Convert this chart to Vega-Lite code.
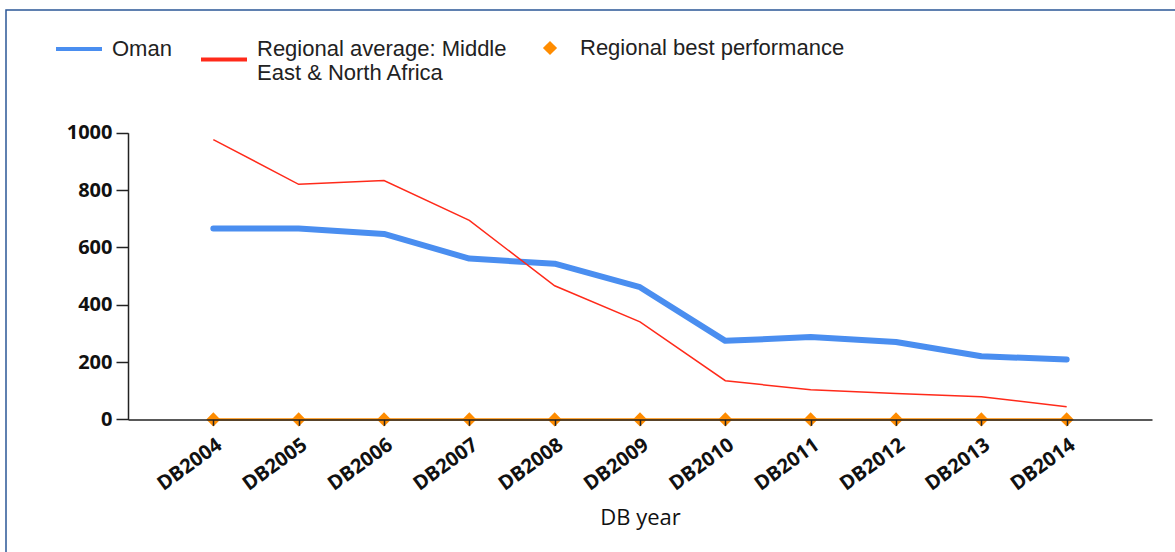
{
  "$schema": "https://vega.github.io/schema/vega-lite/v6.json",
  "width": 1169,
  "height": 542,
  "autosize": {"type": "none"},
  "padding": {"left": 6, "top": 10, "right": 0, "bottom": 0},
  "background": "white",
  "config": {
    "view": {"stroke": "#2b5797", "strokeWidth": 1.5, "strokeDash": [1169, 1711, 542]},
    "font": "Liberation Sans"
  },
  "data": {
    "values": [
      {"year": "DB2004", "series": "Oman", "value": 666},
      {"year": "DB2005", "series": "Oman", "value": 666},
      {"year": "DB2006", "series": "Oman", "value": 647},
      {"year": "DB2007", "series": "Oman", "value": 561},
      {"year": "DB2008", "series": "Oman", "value": 543},
      {"year": "DB2009", "series": "Oman", "value": 461},
      {"year": "DB2010", "series": "Oman", "value": 274},
      {"year": "DB2011", "series": "Oman", "value": 287},
      {"year": "DB2012", "series": "Oman", "value": 270},
      {"year": "DB2013", "series": "Oman", "value": 220},
      {"year": "DB2014", "series": "Oman", "value": 209},
      {"year": "DB2004", "series": "Regional average: Middle East & North Africa", "value": 976},
      {"year": "DB2005", "series": "Regional average: Middle East & North Africa", "value": 820},
      {"year": "DB2006", "series": "Regional average: Middle East & North Africa", "value": 833},
      {"year": "DB2007", "series": "Regional average: Middle East & North Africa", "value": 694},
      {"year": "DB2008", "series": "Regional average: Middle East & North Africa", "value": 466},
      {"year": "DB2009", "series": "Regional average: Middle East & North Africa", "value": 340},
      {"year": "DB2010", "series": "Regional average: Middle East & North Africa", "value": 135},
      {"year": "DB2011", "series": "Regional average: Middle East & North Africa", "value": 103},
      {"year": "DB2012", "series": "Regional average: Middle East & North Africa", "value": 90},
      {"year": "DB2013", "series": "Regional average: Middle East & North Africa", "value": 79},
      {"year": "DB2014", "series": "Regional average: Middle East & North Africa", "value": 44},
      {"year": "DB2004", "series": "Regional best performance", "value": 0},
      {"year": "DB2005", "series": "Regional best performance", "value": 0},
      {"year": "DB2006", "series": "Regional best performance", "value": 0},
      {"year": "DB2007", "series": "Regional best performance", "value": 0},
      {"year": "DB2008", "series": "Regional best performance", "value": 0},
      {"year": "DB2009", "series": "Regional best performance", "value": 0},
      {"year": "DB2010", "series": "Regional best performance", "value": 0},
      {"year": "DB2011", "series": "Regional best performance", "value": 0},
      {"year": "DB2012", "series": "Regional best performance", "value": 0},
      {"year": "DB2013", "series": "Regional best performance", "value": 0},
      {"year": "DB2014", "series": "Regional best performance", "value": 0}
    ]
  },
  "encoding": {
    "x": {
      "field": "year",
      "type": "ordinal",
      "scale": {"type": "point", "padding": 1, "range": [122, 1146]},
      "axis": {
        "zindex": 1,
        "title": "DB year",
        "titleFont": "Open Sans",
        "titleFontWeight": "normal",
        "titleFontSize": 22,
        "titleColor": "#111",
        "titlePadding": 13,
        "labelAngle": -36,
        "labelFont": "Open Sans",
        "labelFontWeight": "bold",
        "labelFontSize": 20,
        "labelColor": "#111",
        "labelPadding": 9,
        "domainColor": "#222",
        "domainWidth": 1.5,
        "tickColor": "#222",
        "tickWidth": 1.5,
        "tickSize": 6,
        "grid": false,
        "offset": -132.6
      }
    },
    "y": {
      "field": "value",
      "type": "quantitative",
      "scale": {"domain": [0, 1000], "range": [409.4, 122.7], "nice": false},
      "axis": {
        "zindex": 1,
        "title": null,
        "values": [0, 200, 400, 600, 800, 1000],
        "format": "d",
        "labelFont": "Open Sans",
        "labelFontWeight": "bold",
        "labelFontSize": 20,
        "labelColor": "#111",
        "labelPadding": 4,
        "domainColor": "#222",
        "domainWidth": 1.5,
        "tickColor": "#222",
        "tickWidth": 1.5,
        "tickSize": 12,
        "grid": false,
        "offset": -122
      }
    }
  },
  "layer": [
    {
      "transform": [{"filter": "datum.series == 'Regional best performance'"}],
      "mark": {"type": "line", "color": "#ff8c00", "strokeWidth": 2.5}
    },
    {
      "transform": [{"filter": "datum.series == 'Oman'"}],
      "mark": {"type": "line", "strokeWidth": 6, "strokeCap": "round", "strokeJoin": "round"},
      "encoding": {
        "color": {
          "field": "series",
          "type": "nominal",
          "scale": {"domain": ["Oman", "Regional average: Middle East & North Africa"], "range": ["#4a8ef0", "#ff2a1a"]},
          "legend": {
            "orient": "none",
            "legendX": 48,
            "legendY": 14,
            "direction": "horizontal",
            "title": null,
            "symbolType": "stroke",
            "symbolSize": 2116,
            "symbolStrokeWidth": 4,
            "labelFont": "Liberation Sans",
            "labelFontSize": 22,
            "labelColor": "#222",
            "labelOffset": 8,
            "columnPadding": 21,
            "labelLimit": 500,
            "padding": 0,
            "labelExpr": "datum.label == 'Oman' ? ['Oman', ' '] : ['Regional average: Middle', 'East & North Africa']",
            "encode": {
              "symbols": {"update": {"shape": {"signal": "datum.value == 'Oman' ? 'M-1,0H1' : 'M-1,0.46H1'"}}}
            }
          }
        }
      }
    },
    {
      "transform": [{"filter": "datum.series == 'Regional average: Middle East & North Africa'"}],
      "mark": {"type": "line", "strokeWidth": 1.5},
      "encoding": {
        "color": {
          "field": "series",
          "type": "nominal",
          "scale": {"domain": ["Oman", "Regional average: Middle East & North Africa"], "range": ["#4a8ef0", "#ff2a1a"]}
        }
      }
    },
    {
      "transform": [{"filter": "datum.series == 'Regional best performance'"}],
      "mark": {"type": "point", "filled": true, "opacity": 1, "color": "#ff8c00", "size": 200},
      "encoding": {
        "shape": {
          "field": "series",
          "type": "nominal",
          "scale": {"domain": ["Regional best performance"], "range": ["diamond"]},
          "legend": {
            "orient": "none",
            "legendX": 533,
            "legendY": 27,
            "title": null,
            "symbolSize": 200,
            "symbolFillColor": "#ff8c00",
            "symbolStrokeWidth": 0,
            "labelFont": "Liberation Sans",
            "labelFontSize": 22,
            "labelColor": "#222",
            "labelOffset": 19,
            "labelLimit": 500,
            "padding": 0
          }
        }
      }
    }
  ]
}
